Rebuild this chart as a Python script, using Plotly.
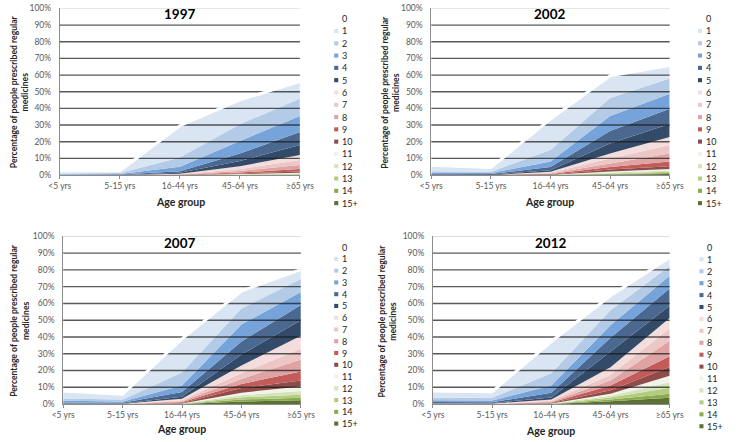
import plotly.graph_objects as go

# ---------------- data ----------------
categories = ["<5 yrs", "5-15 yrs", "16-44 yrs", "45-64 yrs", "≥65 yrs"]
series_labels = ["0", "1", "2", "3", "4", "5", "6", "7", "8", "9", "10",
                 "11", "12", "13", "14", "15+"]
years = ["1997", "2002", "2007", "2012"]
y_ticks = [0, 10, 20, 30, 40, 50, 60, 70, 80, 90, 100]

# cumulative % of people prescribed at least N regular medicines
# rows: N = 1 .. 15+, columns follow `categories`
pct_1997 = [
    [2.0, 2.0, 29.0, 44.5, 55.5],
    [1.0, 1.2, 10.5, 30.5, 46.0],
    [0.5, 0.6, 5.0, 20.5, 35.5],
    [0.2, 0.3, 2.3, 13.0, 25.8],
    [0.1, 0.1, 1.4, 8.5, 18.0],
    [0.05, 0.05, 0.8, 5.3, 12.0],
    [0.0, 0.0, 0.5, 3.6, 9.0],
    [0.0, 0.0, 0.3, 2.5, 6.0],
    [0.0, 0.0, 0.15, 1.5, 3.6],
    [0.0, 0.0, 0.1, 1.0, 2.2],
    [0.0, 0.0, 0.05, 0.6, 1.4],
    [0.0, 0.0, 0.0, 0.4, 0.9],
    [0.0, 0.0, 0.0, 0.2, 0.5],
    [0.0, 0.0, 0.0, 0.1, 0.3],
    [0.0, 0.0, 0.0, 0.05, 0.15],
]
pct_2002 = [
    [5.3, 3.9, 33.0, 59.0, 65.2],
    [2.3, 2.0, 15.0, 46.3, 58.0],
    [1.2, 1.2, 8.2, 35.5, 48.8],
    [0.6, 0.6, 4.9, 26.4, 39.8],
    [0.3, 0.3, 2.9, 19.0, 30.7],
    [0.1, 0.1, 2.0, 13.0, 22.9],
    [0.05, 0.05, 1.5, 10.0, 18.0],
    [0.0, 0.0, 1.0, 7.2, 13.0],
    [0.0, 0.0, 0.6, 4.9, 8.2],
    [0.0, 0.0, 0.3, 3.3, 5.3],
    [0.0, 0.0, 0.15, 2.2, 3.7],
    [0.0, 0.0, 0.1, 1.6, 2.7],
    [0.0, 0.0, 0.05, 1.0, 2.0],
    [0.0, 0.0, 0.0, 0.6, 1.2],
    [0.0, 0.0, 0.0, 0.3, 0.6],
]
pct_2007 = [
    [7.2, 5.2, 38.3, 66.8, 79.6],
    [3.3, 2.7, 18.8, 57.0, 74.6],
    [1.9, 1.5, 11.0, 47.4, 66.8],
    [1.0, 0.8, 7.2, 37.3, 59.0],
    [0.5, 0.4, 4.3, 29.5, 49.9],
    [0.2, 0.2, 3.1, 23.0, 40.8],
    [0.1, 0.1, 2.3, 18.5, 33.0],
    [0.05, 0.05, 1.7, 15.0, 26.6],
    [0.0, 0.0, 1.1, 12.0, 19.4],
    [0.0, 0.0, 0.7, 9.5, 14.0],
    [0.0, 0.0, 0.4, 6.8, 10.5],
    [0.0, 0.0, 0.3, 5.3, 7.8],
    [0.0, 0.0, 0.2, 4.0, 5.6],
    [0.0, 0.0, 0.1, 2.7, 3.7],
    [0.0, 0.0, 0.05, 1.5, 2.3],
]
pct_2012 = [
    [7.2, 6.8, 36.7, 64.0, 86.8],
    [3.7, 3.7, 18.3, 56.0, 82.3],
    [2.3, 2.1, 11.0, 47.0, 76.5],
    [1.2, 1.1, 6.8, 39.5, 68.9],
    [0.6, 0.6, 3.9, 31.0, 58.6],
    [0.3, 0.3, 2.7, 22.0, 51.3],
    [0.1, 0.1, 2.0, 17.5, 45.0],
    [0.05, 0.05, 1.4, 14.0, 37.7],
    [0.0, 0.0, 1.0, 11.0, 28.5],
    [0.0, 0.0, 0.6, 8.2, 22.1],
    [0.0, 0.0, 0.4, 6.2, 16.9],
    [0.0, 0.0, 0.3, 5.0, 13.0],
    [0.0, 0.0, 0.2, 3.9, 9.7],
    [0.0, 0.0, 0.1, 2.7, 6.2],
    [0.0, 0.0, 0.05, 1.7, 3.7],
]
total_pct = 100.0  # ">= 0 medicines" envelope (series "0")

# ---------------- styling ----------------
band_colors = [
    "rgba(255,255,255,0)",  # 0
    "#dae5f3", "#b4cbe7", "#76a3da", "#4b6890", "#344a69",   # 1-5
    "#f3dedd", "#edc7c6", "#dea3a2", "#c25c5a", "#8e4c4b",   # 6-10
    "#eff3e8", "#d6e3bc", "#b2cd80", "#8aab50", "#5b7136",   # 11-15+
]
FONT = "Lato, 'Open Sans', sans-serif"
W, H = 740, 442

panels = [
    dict(x0=50.5, x1=299.0, y0=3.5, y1=174.0, title=(174, 9.5), xt=(175, 202),
         yt=(9.5, 89), sw=334.5, lab=340.5, ly0=14.0, lstep=12.58),
    dict(x0=435.0, x1=681.7, y0=3.5, y1=174.0, title=(557.7, 9.5), xt=(557.7, 202),
         yt=(393, 89), sw=711.0, lab=717.0, ly0=14.0, lstep=12.58),
    dict(x0=54.0, x1=300.0, y0=236.7, y1=408.3, title=(174, 244), xt=(176.7, 434.3),
         yt=(9.5, 323), sw=334.5, lab=340.5, ly0=247.7, lstep=12.04),
    dict(x0=436.7, x1=681.7, y0=236.7, y1=408.3, title=(558, 243.5), xt=(558, 436),
         yt=(390, 323), sw=712.5, lab=718.5, ly0=248.0, lstep=12.2),
]
data_by_year = [pct_1997, pct_2002, pct_2007, pct_2012]


def px(x):
    return x / W


def py(y):
    return 1 - y / H


fig = go.Figure()
shapes = []
annotations = []
xpos = list(range(len(categories)))

for i, (year, rows, p) in enumerate(zip(years, data_by_year, panels), start=1):
    xa = "x" if i == 1 else f"x{i}"
    ya = "y" if i == 1 else f"y{i}"
    # stacked bands drawn bottom (15+) to top (0)
    envelopes = [[total_pct] * len(categories)] + rows  # index = N
    for n in range(len(series_labels) - 1, -1, -1):
        fig.add_trace(go.Scatter(
            x=xpos, y=envelopes[n], xaxis=xa, yaxis=ya,
            mode="lines", line=dict(width=0, color=band_colors[n]),
            fill="tozeroy" if n == len(series_labels) - 1 else "tonexty",
            fillcolor=band_colors[n], name=series_labels[n],
            showlegend=False, hoverinfo="skip"))

    ax_common = dict(showline=True, linecolor="#8c8c8c", linewidth=1,
                     zeroline=False, showgrid=False)
    fig.update_layout(**{
        ("xaxis" if i == 1 else f"xaxis{i}"): dict(
            domain=[px(p["x0"]), px(p["x1"])], anchor=ya, range=[0, 4],
            tickvals=xpos, ticktext=categories, ticks="outside", ticklen=3,
            tickcolor="#8c8c8c", tickfont=dict(size=8.5, color="#595959", family=FONT),
            fixedrange=True, **ax_common),
        ("yaxis" if i == 1 else f"yaxis{i}"): dict(
            domain=[py(p["y1"]), py(p["y0"])], anchor=xa, range=[0, 100],
            tickvals=y_ticks, ticktext=[f"{v}%" for v in y_ticks], ticks="",
            ticklabelstandoff=6,
            tickfont=dict(size=8.5, color="#595959", family=FONT),
            fixedrange=True, **ax_common),
    })

    # gridlines above the areas
    for v in y_ticks[1:-1]:
        shapes.append(dict(type="line", xref=f"{xa} domain", yref=ya, x0=0, x1=1,
                           y0=v, y1=v, layer="above",
                           line=dict(color="rgba(25,25,25,0.72)", width=1.4)))
    shapes.append(dict(type="line", xref=f"{xa} domain", yref=ya, x0=0, x1=1,
                       y0=100, y1=100, layer="above",
                       line=dict(color="#c8c8c8", width=1)))
    # white halo along the upper edge (gridline breaks)
    top = rows[0]
    path = "M " + " L ".join(f"{xx},{vv + 0.6}" for xx, vv in zip(xpos, top))
    shapes.append(dict(type="path", xref=xa, yref=ya, path=path, layer="above",
                       line=dict(color="white", width=3)))

    # titles
    annotations.append(dict(text=f"<b>{year}</b>", x=px(p["title"][0]), y=py(p["title"][1]),
                            xref="paper", yref="paper", showarrow=False,
                            xanchor="center", yanchor="middle",
                            font=dict(size=13.5, color="#000000", family=FONT)))
    annotations.append(dict(text="<b>Age group</b>", x=px(p["xt"][0]), y=py(p["xt"][1]),
                            xref="paper", yref="paper", showarrow=False,
                            xanchor="center", yanchor="middle",
                            font=dict(size=10.5, color="#262626", family=FONT)))
    annotations.append(dict(text="<b>Percentage of people prescribed regular<br>medicines</b>",
                            x=px(p["yt"][0]), y=py(p["yt"][1]), textangle=-90,
                            xref="paper", yref="paper", showarrow=False,
                            xanchor="center", yanchor="middle",
                            font=dict(size=8.6, color="#262626", family=FONT)))

    # legend
    for k, lab in enumerate(series_labels):
        yc = p["ly0"] + k * p["lstep"]
        if k > 0:
            shapes.append(dict(type="rect", xref="paper", yref="paper",
                               x0=px(p["sw"]), x1=px(p["sw"] + 4.2),
                               y0=py(yc + 2.1), y1=py(yc - 2.1),
                               fillcolor=band_colors[k], line=dict(width=0),
                               layer="above"))
        annotations.append(dict(text=lab, x=px(p["lab"]), y=py(yc),
                                xref="paper", yref="paper", showarrow=False,
                                xanchor="left", yanchor="middle",
                                font=dict(size=9, color="#262626", family=FONT)))

fig.update_layout(
    width=W, height=H, autosize=False,
    margin=dict(l=0, r=0, t=0, b=0),
    paper_bgcolor="white", plot_bgcolor="white",
    showlegend=False, shapes=shapes, annotations=annotations,
    font=dict(family=FONT),
)

fig.write_html("out.html", config={"displayModeBar": False},
               post_script="document.body.style.margin='0';document.body.style.overflow='hidden';")
